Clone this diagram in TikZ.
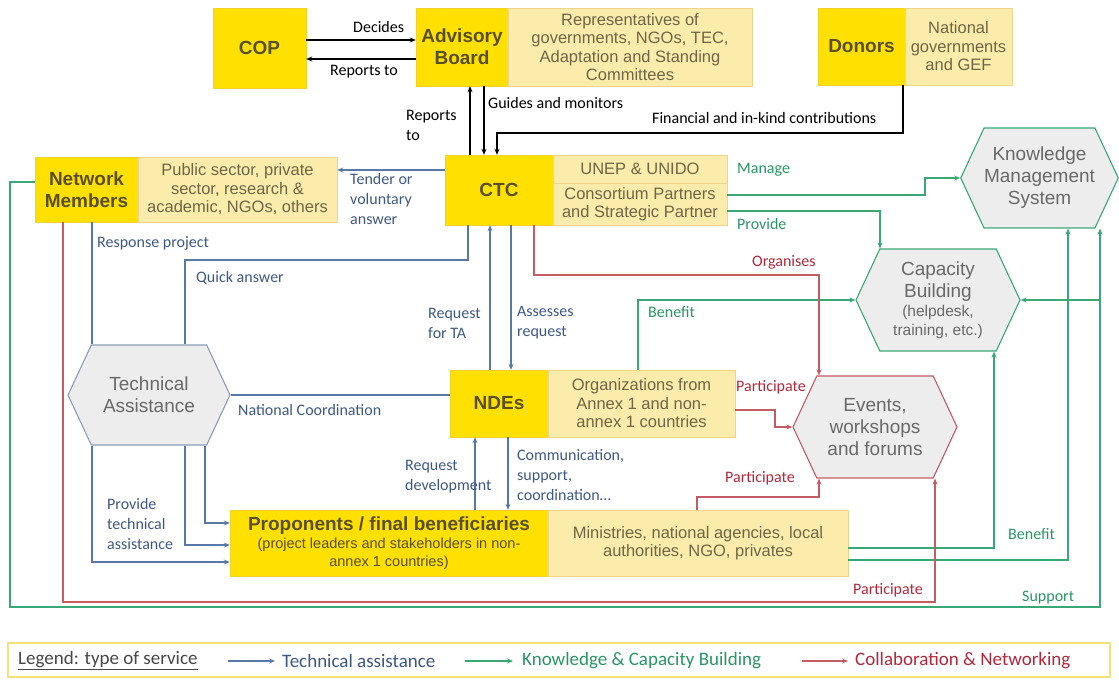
\documentclass[tikz,border=0pt]{standalone}
\usepackage{fontspec}
\setmainfont{Liberation Sans}
\newfontfamily\lblfont{Carlito}
\usetikzlibrary{shapes.symbols,arrows.meta}

\definecolor{ctcyellow}{RGB}{255,224,0}
\definecolor{yellowedge}{RGB}{240,210,40}
\definecolor{paleyellow}{RGB}{252,236,172}
\definecolor{paleedge}{RGB}{236,214,140}
\definecolor{titletext}{RGB}{88,80,36}
\definecolor{boxtext}{RGB}{110,102,70}
\definecolor{hexfill}{RGB}{237,237,237}
\definecolor{hextext}{RGB}{105,105,105}
\definecolor{tablue}{RGB}{88,120,168}
\definecolor{taedge}{RGB}{140,156,184}
\definecolor{talabel}{RGB}{62,88,134}
\definecolor{kcbgreen}{RGB}{58,168,118}
\definecolor{kcblabel}{RGB}{40,150,100}
\definecolor{cnred}{RGB}{196,92,102}
\definecolor{cnlabel}{RGB}{178,40,58}
\definecolor{legendedge}{RGB}{242,226,120}
\definecolor{legendtext}{RGB}{70,70,70}

\newcommand\propsub{\mdseries\fontsize{14.5}{16.5}\selectfont}
\newcommand\hexsub{\fontsize{15.5}{18}\selectfont}

\tikzset{
  yellowbox/.style={fill=ctcyellow, draw=yellowedge, text=titletext, inner sep=0pt,
    align=center, font=\bfseries\fontsize{19}{22}\selectfont},
  palebox/.style={fill=paleyellow, draw=paleedge, text=boxtext, inner sep=0pt,
    align=center, font=\fontsize{16.5}{18.5}\selectfont},
  hexnode/.style={shape=signal, signal to=east and west, signal pointer angle=130,
    fill=hexfill, line width=1.1pt, text=hextext, inner sep=0pt, align=center,
    font=\fontsize{19}{22}\selectfont},
  lbl/.style={inner sep=0pt, align=left, anchor=west, font=\lblfont\fontsize{16}{20}\selectfont},
  govline/.style={draw=black, line width=1.1pt},
  taline/.style={draw=tablue, line width=1.1pt},
  kcbline/.style={draw=kcbgreen, line width=1.1pt},
  cnline/.style={draw=cnred, line width=1.1pt},
  legendlbl/.style={inner sep=0pt, anchor=west, font=\lblfont\fontsize{19}{22}\selectfont}
}

\begin{document}
\begin{tikzpicture}[x=1pt, y=-1pt, >={Stealth[length=6pt,width=5pt]}]
  \useasboundingbox (0,0) rectangle (1119,684);

  % Governance
  \node[yellowbox, minimum width=93pt, minimum height=80pt] (cop) at (259.5,48) {COP};
  \node[yellowbox, minimum width=92pt, minimum height=78pt] (adv) at (462,47) {Advisory\\Board};
  \node[palebox, minimum width=244pt, minimum height=78pt] (advinfo) at (630,47)
    {Representatives of\\governments, NGOs, TEC,\\Adaptation and Standing\\Committees};
  \node[yellowbox, minimum width=87pt, minimum height=77pt] (don) at (861.5,46.5) {Donors};
  \node[palebox, minimum width=107pt, minimum height=77pt] (doninfo) at (958.5,46.5)
    {National\\governments\\and GEF};

  % Actors
  \node[yellowbox, minimum width=103pt, minimum height=65pt] (nm) at (86.5,189.5) {Network\\Members};
  \node[palebox, minimum width=199pt, minimum height=65pt] (nminfo) at (237.5,189.5)
    {Public sector, private\\sector, research \&\\academic, NGOs, others};
  \node[yellowbox, minimum width=108pt, minimum height=70pt] (ctc) at (499,190) {CTC};
  \node[palebox, minimum width=174pt, minimum height=28pt] (unep) at (640,169) {UNEP \& UNIDO};
  \node[palebox, minimum width=174pt, minimum height=42pt] (partners) at (640,204)
    {Consortium Partners\\and Strategic Partner};
  \node[yellowbox, minimum width=98pt, minimum height=67pt] (nde) at (499,403.5) {NDEs};
  \node[palebox, minimum width=187pt, minimum height=67pt] (ndeinfo) at (641.5,403.5)
    {Organizations from\\Annex 1 and non-\\annex 1 countries};
  \node[yellowbox, minimum width=318pt, minimum height=66pt] (prop) at (389,543)
    {Proponents / final beneficiaries\\[-4pt]{\propsub (project leaders and stakeholders in non-}\\[-4pt]{\propsub annex 1 countries)}};
  \node[palebox, minimum width=300pt, minimum height=66pt] (propinfo) at (698,543)
    {Ministries, national agencies, local\\authorities, NGO, privates};

  % Services
  \node[hexnode, draw=taedge, minimum width=162pt, minimum height=100pt] (ta) at (149,395)
    {Technical\\Assistance};
  \node[hexnode, draw=kcbgreen, minimum width=157pt, minimum height=100pt] (kms) at (1039.5,178)
    {Knowledge\\Management\\System};
  \node[hexnode, draw=kcbgreen, minimum width=164pt, minimum height=102pt] (cb) at (938,300)
    {Capacity\\Building\\[-3pt]{\hexsub (helpdesk,}\\[-3pt]{\hexsub training, etc.)}};
  \node[hexnode, draw=cnred, minimum width=164pt, minimum height=102pt] (events) at (875,427)
    {Events,\\workshops\\and forums};

  % Governance links
  \draw[govline, ->] (cop.east |- 0,40) -- (adv.west |- 0,40);
  \draw[govline, ->] (adv.west |- 0,59) -- (cop.east |- 0,59);
  \draw[govline, ->] (ctc.north -| 470,0) -- (adv.south -| 470,0);
  \draw[govline, ->] (adv.south -| 484,0) -- (ctc.north -| 484,0);
  \draw[govline, ->] (don.south -| 903,0) -- (903,133) -- (497,133) -- (ctc.north -| 497,0);
  \node[lbl] (ldecides) at (353,27) {Decides};
  \node[lbl] (lreportsto) at (330,72) {Reports to};
  \node[lbl] (lreports) at (406,125) {Reports\\to};
  \node[lbl] (lguides) at (488,103) {Guides and monitors};
  \node[lbl] (lfinance) at (652,118) {Financial and in-kind contributions};

  % Technical assistance
  \draw[taline, ->] (ctc.west |- 0,170) -- (nminfo.east |- 0,170);
  \draw[taline] (ctc.south -| 468,0) -- (468,260) -- (185,260) -- (ta.north -| 185,0);
  \draw[taline] (nm.south -| 92,0) -- (ta.north -| 92,0);
  \draw[taline, ->] (ta.south -| 92,0) -- (92,562) -- (prop.west |- 0,562);
  \draw[taline, ->] (ta.south -| 185,0) -- (185,545) -- (prop.west |- 0,545);
  \draw[taline, ->] (ta.south -| 205,0) -- (205,523) -- (prop.west |- 0,523);
  \draw[taline] (ta.east) -- (nde.west |- ta.east);
  \draw[taline, ->] (nde.north -| 490,0) -- (ctc.south -| 490,0);
  \draw[taline, ->] (ctc.south -| 511,0) -- (nde.north -| 511,0);
  \draw[taline, ->] (prop.north -| 475,0) -- (nde.south -| 475,0);
  \draw[taline, ->] (nde.south -| 508,0) -- (prop.north -| 508,0);
  \node[lbl, text=talabel] (ltender) at (350,199) {Tender or\\voluntary\\answer};
  \node[lbl, text=talabel] (lresponse) at (97,243) {Response project};
  \node[lbl, text=talabel] (lquick) at (196,278) {Quick answer};
  \node[lbl, text=talabel] (lrequest) at (428,323) {Request\\for TA};
  \node[lbl, text=talabel] (lassess) at (517,323) {Assesses\\request};
  \node[lbl, text=talabel] (lnational) at (238,410) {National Coordination};
  \node[lbl, text=talabel] (ldevelop) at (405,477) {Request\\development};
  \node[lbl, text=talabel] (lcomm) at (517,475) {Communication,\\support,\\coordination…};
  \node[lbl, text=talabel] (lprovideta) at (107,524) {Provide\\technical\\assistance};

  % Knowledge and capacity building
  \draw[kcbline, ->] (partners.east |- 0,195) -- (925,195) -- (925,178) -- (kms.west);
  \draw[kcbline, ->] (partners.east |- 0,211) -- (880,211) -- (cb.north -| 880,0);
  \draw[kcbline, ->] (ndeinfo.north -| 638,0) -- (638,300) -- (cb.west);
  \draw[kcbline, ->] (propinfo.east |- 0,548) -- (994,548) -- (cb.south -| 994,0);
  \draw[kcbline, ->] (propinfo.east |- 0,560) -- (1068,560) -- (kms.south -| 1068,0);
  \draw[kcbline, ->] (nm.west |- 0,182) -- (10,182) -- (10,607) -- (1100,607) -- (kms.south -| 1100,0);
  \draw[kcbline, ->] (1100,300) -- (cb.east);
  \node[lbl, text=kcblabel] (lmanage) at (737,170) {Manage};
  \node[lbl, text=kcblabel] (lprovide) at (737,224) {Provide};
  \node[lbl, text=kcblabel] (lbenefit) at (648,312) {Benefit};
  \node[lbl, text=kcblabel] (lbenefitb) at (1008,534) {Benefit};
  \node[lbl, text=kcblabel] (lsupport) at (1022,598) {Support};

  % Collaboration and networking
  \draw[cnline, ->] (ctc.south -| 534,0) -- (534,275) -- (819,275) -- (events.north -| 819,0);
  \draw[cnline, ->] (ndeinfo.east |- 0,410) -- (775,410) -- (775,427) -- (events.west);
  \draw[cnline, ->] (propinfo.north -| 697,0) -- (697,497) -- (819,497) -- (events.south -| 819,0);
  \draw[cnline, ->] (nm.south -| 63,0) -- (63,602) -- (935,602) -- (events.south -| 935,0);
  \node[lbl, text=cnlabel] (lorganises) at (752,262) {Organises};
  \node[lbl, text=cnlabel] (lpartnde) at (736,387) {Participate};
  \node[lbl, text=cnlabel] (lpartprop) at (725,478) {Participate};
  \node[lbl, text=cnlabel] (lpartnm) at (853,590) {Participate};

  % Legend
  \draw[draw=legendedge, line width=1.2pt] (8,643) rectangle (1110,677);
  \node[legendlbl, text=legendtext] (lgtitle) at (18,661) {\underline{Legend: type of service}};
  \node[legendlbl, text=talabel] (lgta) at (282,661) {Technical assistance};
  \node[legendlbl, text=kcblabel] (lgkcb) at (522,661) {Knowledge \& Capacity Building};
  \node[legendlbl, text=cnlabel] (lgcn) at (855,661) {Collaboration \& Networking};
  \coordinate (lgtastart) at (228,661);
  \coordinate (lgkcbstart) at (465,661);
  \coordinate (lgcnstart) at (802,661);
  \draw[taline, ->] (lgtastart) -- ([xshift=-7pt]lgta.west);
  \draw[kcbline, ->] (lgkcbstart) -- ([xshift=-9pt]lgkcb.west);
  \draw[cnline, ->] (lgcnstart) -- ([xshift=-7pt]lgcn.west);
\end{tikzpicture}
\end{document}
